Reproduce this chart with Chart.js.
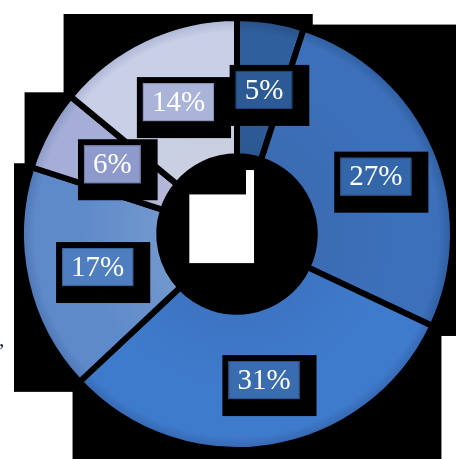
<!DOCTYPE html>
<html>
<head>
<meta charset="utf-8">
<script src="https://cdn.jsdelivr.net/npm/chart.js@4/dist/chart.umd.min.js"></script>
<style>
  html, body { margin: 0; padding: 0; background: #ffffff; }
  #wrap { width: 456px; height: 459px; position: relative; }
</style>
</head>
<body>
<div id="wrap"><canvas id="c"></canvas></div>
<script>
// Data (clockwise from top)
const categories = ['A', 'B', 'C', 'D', 'E', 'F'];
const values = [5, 27, 31, 17, 6, 14];
const labelTexts = ['5%', '27%', '31%', '17%', '6%', '14%'];

// Styles
const gradStops = [
  ['#2c5891', '#2f5f9c', '#264d84'],
  ['#3b6cb3', '#3c70ba', '#2e5c9c'],
  ['#3d74c2', '#3f7bcd', '#3465ac'],
  ['#7298cd', '#5f8aca', '#4b74b2'],
  ['#b6b8d9', '#a5aed7', '#8b98c4'],
  ['#cad0e0', '#c8cfe6', '#a8b2d2']
];
const boxColors = ['#2c5a94', '#3467a9', '#3a6cb0', '#4e7ec0', '#8e9acb', '#a9b4d8'];
const boxBorders = ['#1f4272', '#284f84', '#2b5188', '#3b6299', '#6c78a8', '#8590b8'];

function bgColor(context) {
  const chart = context.chart;
  const area = chart.chartArea;
  const i = context.dataIndex;
  const stops = gradStops[i];
  if (!area) return stops[1];
  const cx = (area.left + area.right) / 2;
  const cy = (area.top + area.bottom) / 2;
  const outer = (Math.min(area.right - area.left, area.bottom - area.top) - 6) / 2;
  const inner = outer * 0.36;
  const g = chart.ctx.createRadialGradient(cx, cy, inner, cx, cy, outer);
  g.addColorStop(0, stops[0]);
  g.addColorStop(0.55, stops[1]);
  g.addColorStop(0.9, stops[1]);
  g.addColorStop(1, stops[2]);
  return g;
}

// Black bounding boxes behind each arc, label boxes on top
const boxPlugin = {
  id: 'boxes',
  beforeDatasetsDraw(chart) {
    const ctx = chart.ctx;
    const meta = chart.getDatasetMeta(0);
    ctx.save();
    ctx.fillStyle = '#000000';
    const padL = 7, padT = 4, padR = 9, padB = 10;
    meta.data.forEach((arc) => {
      const p = arc.getProps(['x', 'y', 'startAngle', 'endAngle', 'innerRadius', 'outerRadius']);
      const angs = [p.startAngle, p.endAngle];
      for (let k = -4; k <= 8; k++) {
        const a = k * Math.PI / 2;
        if (a > p.startAngle && a < p.endAngle) angs.push(a);
      }
      let minX = Infinity, minY = Infinity, maxX = -Infinity, maxY = -Infinity;
      [p.innerRadius, p.outerRadius].forEach((r, ri) => {
        const list = ri === 0 ? [p.startAngle, p.endAngle] : angs;
        list.forEach((a) => {
          const x = p.x + r * Math.cos(a);
          const y = p.y + r * Math.sin(a);
          minX = Math.min(minX, x); maxX = Math.max(maxX, x);
          minY = Math.min(minY, y); maxY = Math.max(maxY, y);
        });
      });
      ctx.fillRect(minX - padL, minY - padT, maxX - minX + padL + padR, maxY - minY + padT + padB);
    });
    ctx.restore();
  },
  afterDatasetsDraw(chart) {
    const ctx = chart.ctx;
    const meta = chart.getDatasetMeta(0);
    ctx.save();
    ctx.font = '29px "Liberation Serif", "DejaVu Serif", serif';
    ctx.textAlign = 'center';
    ctx.textBaseline = 'middle';
    meta.data.forEach((arc, i) => {
      const c = arc.getCenterPoint();
      const cx = c.x + 4;
      const cy = c.y + 1;
      const t = labelTexts[i];
      const w = ctx.measureText(t).width + 18;
      const h = 38;
      ctx.fillStyle = '#000000';
      ctx.fillRect(cx - w / 2 - 6, cy - h / 2 - 6, w + 23, h + 23);
      ctx.fillStyle = boxColors[i];
      ctx.fillRect(cx - w / 2, cy - h / 2, w, h);
      ctx.strokeStyle = boxBorders[i];
      ctx.lineWidth = 1;
      ctx.strokeRect(cx - w / 2 + 0.5, cy - h / 2 + 0.5, w - 1, h - 1);
      ctx.fillStyle = '#ffffff';
      ctx.fillText(t, cx, cy + 1);
    });
    // stray comma fragment at left edge
    ctx.fillStyle = '#1c2c4c';
    ctx.font = '22px "Liberation Serif", serif';
    ctx.textAlign = 'left';
    ctx.fillText(',', -1, 340);
    ctx.restore();
  }
};

new Chart(document.getElementById('c'), {
  type: 'doughnut',
  data: {
    labels: categories,
    datasets: [{
      data: values,
      backgroundColor: bgColor,
      borderColor: '#000000',
      borderWidth: 6,
      hoverOffset: 0
    }]
  },
  options: {
    responsive: true,
    maintainAspectRatio: false,
    animation: false,
    cutout: '36%',
    layout: { padding: { left: 18, right: 0, top: 15, bottom: 6 } },
    plugins: {
      legend: { display: false },
      tooltip: { enabled: false }
    },
    events: []
  },
  plugins: [boxPlugin]
});
</script>
</body>
</html>
